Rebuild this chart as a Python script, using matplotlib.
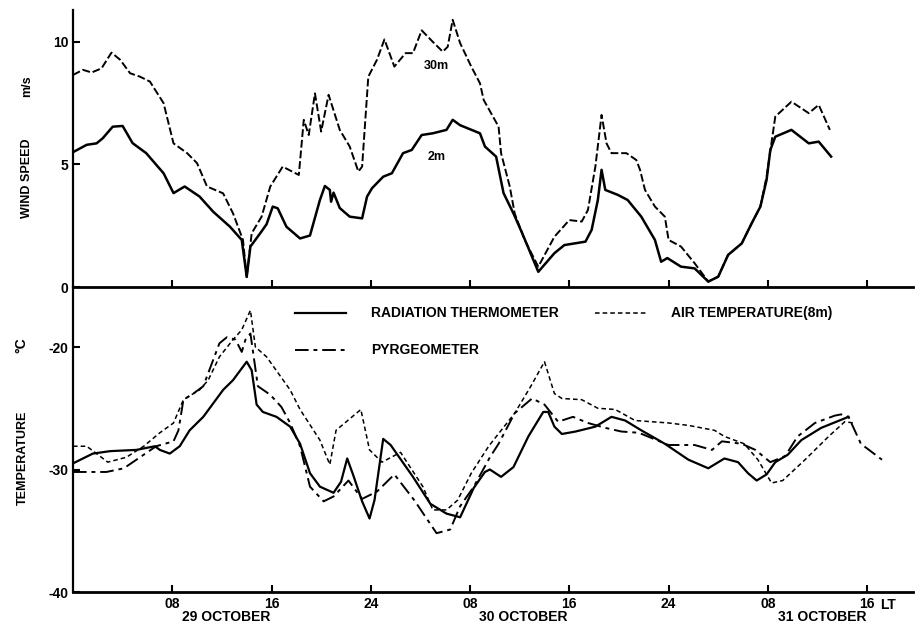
import matplotlib
matplotlib.use("Agg")
import matplotlib.pyplot as plt

plt.rcParams['font.family'] = ['Liberation Sans', 'DejaVu Sans']
plt.rcParams['font.weight'] = 'bold'

# ---------------- data (hours from 00 LT 29 October) ----------------
wind2_h = [0, 1.1, 1.9, 2.4, 3.2, 4.0, 4.8, 5.9, 7.3, 8.1, 9.0, 10.2, 11.3, 12.65, 13.6, 14.0, 14.3,
           15.1, 15.6, 16.1, 16.5, 17.2, 18.3, 19.1, 19.9, 20.3, 20.7, 20.8, 21.0, 21.5, 22.3, 23.3,
           23.7, 24.1, 25.0, 25.7, 26.6, 27.3, 28.1, 29.0, 30.1, 30.6, 31.2, 32.8, 33.2, 34.1, 34.7,
           35.5, 36.2, 37.5, 38.8, 39.6, 41.3, 41.8, 42.3, 42.6, 42.9, 43.9, 44.7, 45.8, 46.9, 47.4,
           47.9, 49.0, 50.1, 51.2, 52.0, 52.8, 53.9, 54.7, 55.4, 55.9, 56.2, 56.6, 57.9, 59.3, 60.1, 61.1]
wind2_v = [5.5, 5.8, 5.86, 6.07, 6.54, 6.57, 5.87, 5.46, 4.64, 3.83, 4.1, 3.69, 3.07, 2.46, 1.92, 0.42,
           1.65, 2.2, 2.56, 3.28, 3.21, 2.46, 1.98, 2.1, 3.55, 4.12, 3.96, 3.48, 3.85, 3.22, 2.87, 2.8,
           3.69, 4.03, 4.5, 4.64, 5.46, 5.59, 6.2, 6.27, 6.41, 6.82, 6.6, 6.27, 5.73, 5.32, 3.83, 3.0,
           2.2, 0.62, 1.38, 1.71, 1.85, 2.33, 3.55, 4.78, 3.96, 3.76, 3.55, 2.87, 1.92, 1.03, 1.18, 0.83,
           0.76, 0.22, 0.42, 1.31, 1.78, 2.6, 3.28, 4.37, 5.59, 6.13, 6.41, 5.86, 5.93, 5.32]

wind30_h = [0, 0.8, 1.5, 2.3, 3.1, 3.8, 4.6, 5.4, 6.2, 7.3, 8.1, 9.2, 10.0, 10.8, 12.1, 12.9, 13.7,
            14.0, 14.4, 15.2, 15.9, 16.9, 18.2, 18.6, 19.0, 19.5, 20.0, 20.6, 21.5, 22.3, 23.0, 23.3,
            23.8, 24.5, 25.1, 25.9, 26.8, 27.4, 28.1, 29.0, 29.8, 30.2, 30.6, 31.2, 32.1, 32.8, 33.1,
            34.3, 34.5, 35.2, 35.6, 36.4, 37.5, 38.8, 40.0, 41.0, 41.5, 42.1, 42.6, 43.0, 43.4, 44.6,
            45.4, 45.7, 46.1, 46.9, 47.7, 48.0, 49.0, 50.1, 51.2, 52.0, 52.8, 53.9, 54.7, 55.4, 55.9,
            56.6, 57.9, 59.3, 60.1, 61.0]
wind30_v = [8.65, 8.86, 8.75, 8.92, 9.56, 9.27, 8.72, 8.58, 8.38, 7.5, 5.86, 5.46, 5.05, 4.1, 3.82,
            3.0, 1.92, 0.4, 2.19, 2.87, 4.1, 4.91, 4.57, 6.82, 6.2, 7.9, 6.34, 7.84, 6.41, 5.73, 4.71,
            4.91, 8.58, 9.27, 10.1, 8.99, 9.54, 9.54, 10.47, 10.0, 9.6, 9.8, 10.9, 9.95, 8.99, 8.31,
            7.63, 6.54, 5.46, 4.1, 3.0, 1.92, 0.83, 2.05, 2.73, 2.67, 3.14, 4.91, 7.02, 5.86, 5.46,
            5.46, 5.18, 4.78, 3.96, 3.28, 2.87, 1.92, 1.65, 0.97, 0.22, 0.42, 1.31, 1.78, 2.6, 3.28,
            4.5, 6.95, 7.56, 7.09, 7.43, 6.41]

rad_h = [0, 1.6, 3.0, 5.1, 6.6, 7.0, 7.8, 8.6, 9.4, 10.5, 12.1, 12.9, 14.0, 14.4, 14.8, 15.3, 16.4,
         17.5, 18.3, 19.1, 19.9, 21.0, 21.6, 22.1, 22.6, 23.3, 23.9, 24.3, 25.0, 25.6, 26.5, 27.4,
         28.8, 30.1, 31.2, 32.3, 33.2, 33.6, 34.5, 35.5, 36.7, 37.9, 38.3, 38.8, 39.4, 40.5, 42.1,
         43.4, 44.5, 45.8, 47.7, 49.6, 51.2, 52.5, 53.6, 54.4, 55.1, 55.9, 56.6, 57.6, 58.7, 60.3, 62.5]
rad_v = [-29.5, -28.7, -28.5, -28.4, -28.1, -28.4, -28.7, -28.1, -26.8, -25.7, -23.5, -22.7, -21.2,
         -21.9, -24.7, -25.3, -25.7, -26.5, -27.9, -30.3, -31.4, -31.9, -31.0, -29.1, -30.5, -32.6,
         -34.0, -32.5, -27.5, -28.0, -29.3, -30.6, -32.8, -33.6, -33.9, -31.5, -30.2, -30.0, -30.6,
         -29.8, -27.3, -25.3, -25.3, -26.5, -27.1, -26.9, -26.5, -25.7, -26.0, -26.8, -27.9, -29.2,
         -29.9, -29.1, -29.4, -30.3, -30.9, -30.4, -29.4, -28.8, -27.6, -26.6, -25.7]

pyr_h = [0, 2.7, 4.1, 5.4, 6.7, 8.1, 8.5, 8.9, 9.7, 10.5, 11.8, 12.4, 13.1, 13.6, 13.9, 14.3, 14.9,
         15.9, 16.8, 17.5, 18.3, 19.1, 20.2, 21.0, 22.2, 23.3, 24.5, 25.9, 27.5, 28.5, 29.3, 30.4,
         31.2, 32.3, 33.6, 34.3, 35.6, 37.0, 38.0, 39.1, 40.3, 41.5, 42.9, 44.2, 45.6, 48.0, 50.1,
         51.5, 52.3, 53.9, 55.0, 56.2, 57.4, 58.4, 59.8, 61.4, 61.9, 62.5, 63.5, 65.2]
pyr_v = [-30.2, -30.2, -29.9, -29.0, -28.1, -27.7, -26.8, -24.3, -23.8, -23.2, -19.7, -19.2, -19.4,
         -20.4, -19.4, -18.9, -23.2, -23.9, -24.9, -26.2, -28.1, -31.4, -32.6, -32.2, -30.9, -32.4,
         -31.8, -30.4, -32.5, -34.0, -35.2, -34.9, -33.0, -31.4, -29.0, -27.9, -25.4, -24.2, -24.7,
         -26.1, -25.7, -26.2, -26.6, -26.9, -27.0, -28.0, -28.0, -28.4, -27.7, -27.9, -28.4, -29.4,
         -28.9, -27.3, -26.2, -25.6, -25.5, -25.7, -27.9, -29.2]

air_h = [0, 1.1, 1.9, 2.8, 4.3, 5.7, 7.0, 8.1, 8.9, 10.2, 10.9, 11.8, 12.9, 13.6, 14.3, 14.7, 15.6,
         17.5, 18.3, 19.9, 20.7, 21.2, 23.2, 23.9, 24.9, 26.4, 28.2, 29.0, 30.1, 31.0, 32.1, 33.5,
         35.6, 36.9, 38.0, 38.8, 39.4, 41.0, 42.3, 43.7, 45.3, 48.0, 49.6, 51.7, 52.5, 54.1, 55.2,
         56.3, 57.2, 59.0, 60.9, 62.2, 62.9]
air_v = [-28.1, -28.1, -28.7, -29.4, -29.0, -28.1, -27.0, -26.2, -24.3, -23.5, -22.7, -20.8, -19.4,
         -18.6, -17.0, -20.0, -20.8, -23.5, -25.1, -27.6, -29.6, -26.8, -25.1, -28.4, -29.4, -28.6,
         -31.4, -33.3, -33.3, -32.5, -30.3, -28.1, -25.4, -23.2, -21.2, -23.8, -24.2, -24.3, -25.0,
         -25.1, -26.0, -26.2, -26.4, -26.8, -27.3, -27.9, -29.2, -31.1, -30.9, -29.2, -27.3, -26.1, -26.2]

xticks = [8, 16, 24, 32, 40, 48, 56, 64]
xtick_labels = ["08", "16", "24", "08", "16", "24", "08", "16"]
dates = ["29 OCTOBER", "30 OCTOBER", "31 OCTOBER"]
date_px = [226, 523, 822]

# ---------------- figure ----------------
W, H = 915, 625
fig = plt.figure(figsize=(W / 100, H / 100), dpi=100)

def fx(px):
    return px / W

def fy(py):
    return 1 - py / H

L, R = 73, 913
ax1 = fig.add_axes([fx(L), fy(287), fx(R) - fx(L), fy(10) - fy(287)])
ax2 = fig.add_axes([fx(L), fy(592), fx(R) - fx(L), fy(287) - fy(592)])

FS = 10
for ax in (ax1, ax2):
    ax.set_xlim(0, 67.7)
    for s in ('top', 'right'):
        ax.spines[s].set_visible(False)
    ax.spines['left'].set_linewidth(1.6)
    ax.spines['bottom'].set_linewidth(2.0)
    ax.set_xticks(xticks)
    ax.tick_params(axis='both', direction='in', length=5, width=1.5, labelsize=FS)
    ax.patch.set_alpha(0)

ax1.set_ylim(0, 11.3)
ax1.set_yticks([0, 5, 10])
ax1.set_yticklabels(["0", "5", "10"], fontweight='bold')
ax1.set_xticklabels([])

ax2.set_ylim(-40, -15.1)
ax2.set_yticks([-40, -30, -20])
ax2.set_yticklabels(["-40", "-30", "-20"], fontweight='bold')
ax2.set_xticklabels(xtick_labels, fontweight='bold')
ax2.tick_params(axis='x', pad=3.5)

# wind
ax1.plot(wind2_h, wind2_v, color='black', lw=1.8, solid_joinstyle='round')
ax1.plot(wind30_h, wind30_v, color='black', lw=1.4, linestyle=(0, (4, 1.5)))
ax1.text(29.3, 9.0, "30m", fontsize=FS - 1, fontweight='bold', ha='center', va='center')
ax1.text(29.3, 5.3, "2m", fontsize=FS - 1, fontweight='bold', ha='center', va='center')

# temperature
ax2.plot(rad_h, rad_v, color='black', lw=1.6)
ax2.plot(air_h, air_v, color='black', lw=1.1, linestyle=(0, (3, 2)))
ax2.plot(pyr_h, pyr_v, color='black', lw=1.4, linestyle=(0, (7, 2.5, 2, 2.5)))

# legend drawn manually in axis data coords
def leg(x0, x1, y, style, lw, text):
    ax2.plot([x0, x1], [y, y], color='black', lw=lw, linestyle=style)
    ax2.text(x1 + 2.0, y, text, fontsize=FS, fontweight='bold', va='center', ha='left')

leg(17.9, 22.0, -17.22, '-', 1.6, "RADIATION THERMOMETER")
leg(17.9, 22.0, -20.24, (0, (7, 2.5, 2, 2.5)), 1.4, "PYRGEOMETER")
leg(42.1, 46.2, -17.22, (0, (3, 2)), 1.1, "AIR TEMPERATURE(8m)")

# date labels
for d, p in zip(dates, date_px):
    fig.text(fx(p), fy(617), d, fontsize=FS, fontweight='bold', ha='center', va='center')
fig.text(fx(880), fy(605), "LT", fontsize=FS, fontweight='bold', ha='left', va='center')

# axis titles
fig.text(fx(27), fy(178), "WIND SPEED", rotation=90, fontsize=FS - 1, fontweight='bold', ha='center', va='center')
fig.text(fx(27), fy(86), "m/s", rotation=90, fontsize=FS - 1, fontweight='bold', ha='center', va='center')
fig.text(fx(23), fy(458), "TEMPERATURE", rotation=90, fontsize=FS - 1, fontweight='bold', ha='center', va='center')
fig.text(fx(21), fy(345), "°C", rotation=90, fontsize=FS, fontweight='bold', ha='center', va='center')

fig.savefig("out.png", dpi=100)
